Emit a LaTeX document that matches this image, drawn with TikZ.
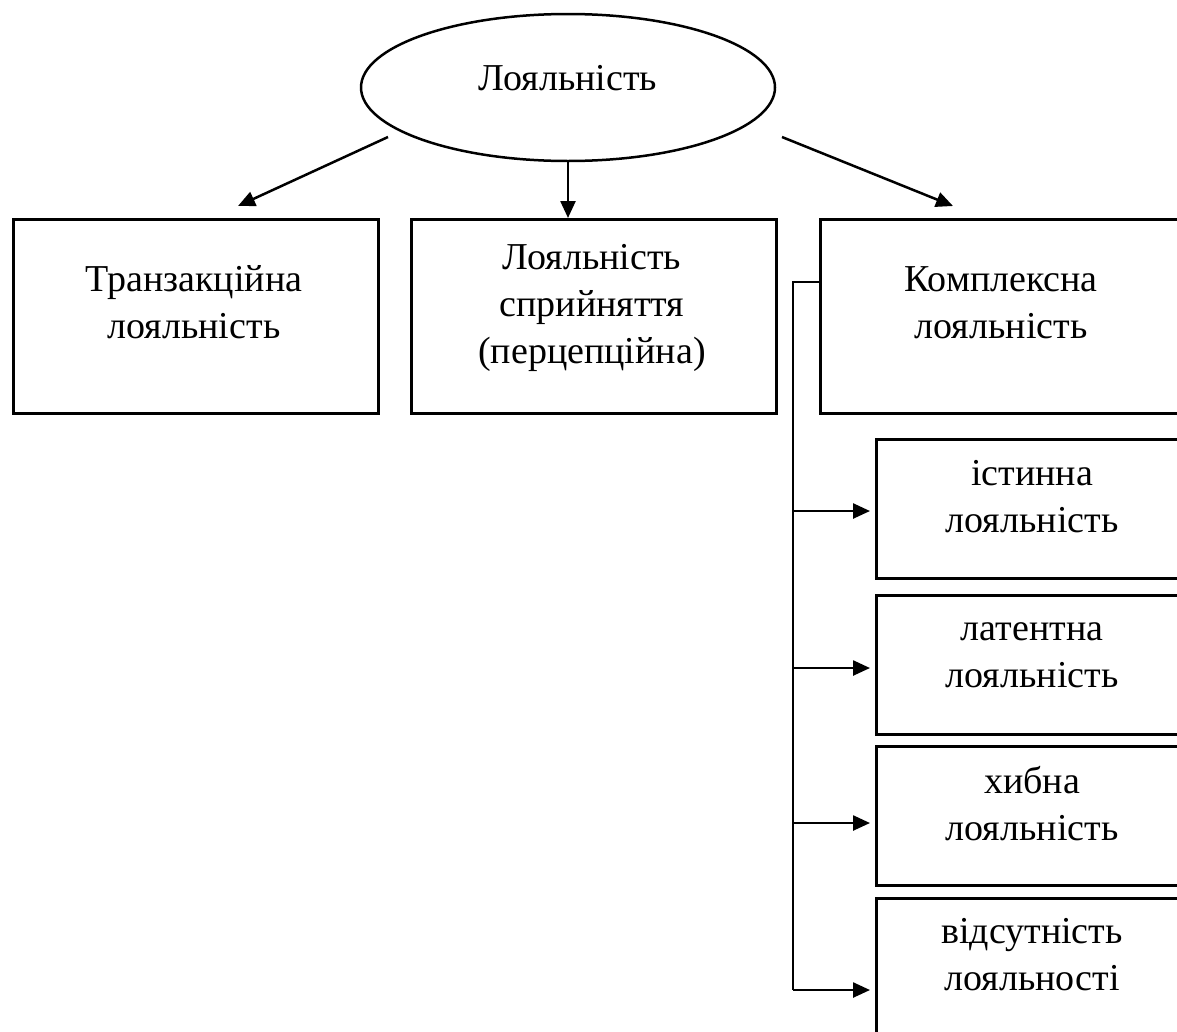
\documentclass[tikz,border=0pt]{standalone}
\usepackage{fontspec}
\setmainfont{Liberation Serif}
\usetikzlibrary{arrows.meta,shapes.geometric,calc}
\begin{document}
\begin{tikzpicture}[x=1pt,y=-1pt,
  line width=2.5pt,
  box/.style={draw, line width=2.5pt, rectangle, inner sep=0pt, anchor=north west},
  lbl/.style={font=\fontsize{38}{47}\selectfont, align=center, anchor=base, inner sep=0pt},
  arr/.style={-{Triangle[length=17pt,width=15pt]}, line width=2.5pt}]
\useasboundingbox (0,0) rectangle (1177,1031);
\clip (0,0) rectangle (1177,1031);
% top ellipse
\node[draw, ellipse, minimum width=414pt, minimum height=147pt, inner sep=0pt, line width=2.5pt] (ell) at (568,87.5) {};
\node[lbl] (ellt) at (568,90) {Лояльність};
% first level boxes
\node[box, minimum width=365pt, minimum height=194pt] (b1) at (12,218) {};
\node[box, minimum width=365pt, minimum height=194pt] (b2) at (410,218) {};
\node[box, minimum width=365pt, minimum height=194pt] (b3) at (819,218) {};
\node[lbl] (b1t) at (194,338) {Транзакційна\\лояльність};
\node[lbl] (b2t) at (592,363) {Лояльність\\сприйняття\\(перцепційна)};
\node[lbl] (b3t) at (1001,338) {Комплексна\\лояльність};
% second level boxes
\node[box, minimum width=316pt, minimum height=139pt] (sa) at (875,438) {};
\node[box, minimum width=316pt, minimum height=139pt] (sb) at (875,594) {};
\node[box, minimum width=316pt, minimum height=139pt] (sc) at (875,745) {};
\node[box, minimum width=316pt, minimum height=139pt] (sd) at (875,897) {};
\node[lbl] (sat) at (1032,532) {істинна\\лояльність};
\node[lbl] (sbt) at (1032,687) {латентна\\лояльність};
\node[lbl] (sct) at (1032,840) {хибна\\лояльність};
\node[lbl] (sdt) at (1032,990) {відсутність\\лояльності};
% connectors from ellipse
\coordinate (l0) at (388,137);
\coordinate (l1) at (238,206);
\coordinate (r0) at (782,137);
\coordinate (r1) at (953,206);
\draw[arr] (l0) -- (l1);
\draw[arr] (ell.south) -- (ell.south |- b2.north);
\draw[arr] (r0) -- (r1);
% bus
\coordinate (k0) at (819,282);
\coordinate (bus) at (793,282);
\coordinate (ya) at (793,511);
\coordinate (yb) at (793,668);
\coordinate (yc) at (793,823);
\coordinate (yd) at (793,990);
\draw[line join=miter] (k0) -- (bus) -- (yd);
\draw[arr, shorten >=5pt] (yd) -- (yd -| sd.west);
\draw[arr, shorten >=5pt] (ya) -- (ya -| sa.west);
\draw[arr, shorten >=5pt] (yb) -- (yb -| sb.west);
\draw[arr, shorten >=5pt] (yc) -- (yc -| sc.west);
\end{tikzpicture}
\end{document}
